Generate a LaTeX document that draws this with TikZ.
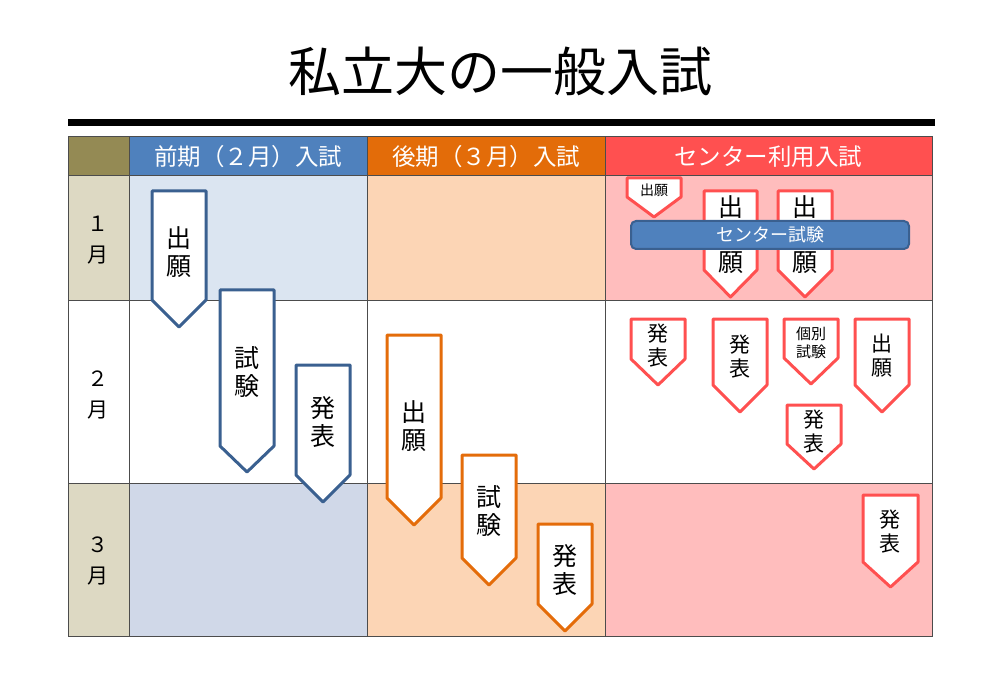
\documentclass[tikz,border=0pt]{standalone}
\usepackage{fontspec}
\setmainfont{Noto Sans CJK JP}
\usepackage{xcolor}

\definecolor{hdrcorner}{HTML}{948A54}
\definecolor{hdrblue}{HTML}{4F81BD}
\definecolor{hdrorange}{HTML}{E36C09}
\definecolor{hdrred}{HTML}{FF5050}
\definecolor{monthbg}{HTML}{DDD9C3}
\definecolor{bluelight}{HTML}{DBE5F1}
\definecolor{bluegray}{HTML}{D0D8E8}
\definecolor{orangelight}{HTML}{FCD5B5}
\definecolor{redlight}{HTML}{FFBDBD}
\definecolor{blueline}{HTML}{3A6090}
\definecolor{orangeline}{HTML}{E46C0A}
\definecolor{redline}{HTML}{FF5050}

% colour, left, right, top, shoulder, tip
\newcommand{\shield}[6]{%
  \draw[#1,line width=3pt,fill=white,line join=round]
    (#2,#4) -- (#3,#4) -- (#3,#5) -- ({(#2+#3)/2},#6) -- (#2,#5) -- cycle;}

\begin{document}
\begin{tikzpicture}[x=1pt,y=-1pt,
  every node/.style={inner sep=0pt},
  hdr/.style={text=white,font=\fontsize{23.5}{26}\selectfont},
  month/.style={align=center,font=\fontsize{21}{31}\selectfont},
  tag/.style={align=center,font=\fontsize{25}{28}\selectfont},
  tagmid/.style={align=center,font=\fontsize{21}{24}\selectfont},
  tagsmall/.style={align=center,font=\fontsize{14}{17}\selectfont},
  cellline/.style={draw=black!70,line width=1pt}]
\useasboundingbox (0,0) rectangle (1000,700);

% title
\node (title) at (500,71) {\fontsize{53}{60}\selectfont 私立大の一般入試};
\draw[line width=7pt] (68,122.5) -- (935,122.5);

% header row
\fill[hdrcorner] (68,137) rectangle (129,176);
\fill[hdrblue] (129,137) rectangle (367,176);
\fill[hdrorange] (367,137) rectangle (605,176);
\fill[hdrred] (605,137) rectangle (932,176);
\node[hdr] (hfirst) at (248,157) {前期（２月）入試};
\node[hdr] (hsecond) at (486,157) {後期（３月）入試};
\node[hdr] (hcenter) at (768,157) {センター利用入試};

% month rows
\fill[monthbg] (68,176) rectangle (129,300);
\fill[bluelight] (129,176) rectangle (367,300);
\fill[orangelight] (367,176) rectangle (605,300);
\fill[redlight] (605,176) rectangle (932,300);
\fill[monthbg] (68,483) rectangle (129,636);
\fill[bluegray] (129,483) rectangle (367,636);
\fill[orangelight] (367,483) rectangle (605,636);
\fill[redlight] (605,483) rectangle (932,636);

% grid
\draw[cellline] (68,137) rectangle (932,636);
\foreach \x in {129,367,605} \draw[cellline] (\x,137) -- (\x,636);
\foreach \y in {176,300,483} \draw[cellline] (68,\y) -- (932,\y);

\node[month] (jan) at (98,240) {１\\月};
\node[month] (feb) at (98,395) {２\\月};
\node[month] (mar) at (98,561) {３\\月};

% first term
\shield{blueline}{152}{206}{191}{300}{327}
\shield{blueline}{220}{274}{290}{446}{472}
\shield{blueline}{296}{350}{365}{475}{502}
\node[tag] (fapply) at (179,252) {出\\願};
\node[tag] (fexam) at (247,372) {試\\験};
\node[tag] (fresult) at (323,422) {発\\表};

% second term
\shield{orangeline}{387}{441}{335}{498}{525}
\shield{orangeline}{462}{516}{455}{558}{585}
\shield{orangeline}{538}{592}{524}{604}{631}
\node[tag] (sapply) at (414,426) {出\\願};
\node[tag] (sexam) at (489,511) {試\\験};
\node[tag] (sresult) at (565,570) {発\\表};

% center test
\shield{redline}{627}{681}{178}{197}{217}
\shield{redline}{704}{757}{191}{270}{297}
\shield{redline}{778}{832}{191}{270}{297}
\node[tagsmall] (capply) at (654,190) {出願};
\node[tag] (capplyA1) at (730.5,207) {出};
\node[tag] (capplyA2) at (730.5,263) {願};
\node[tag] (capplyB1) at (805,207) {出};
\node[tag] (capplyB2) at (805,263) {願};
\draw[blueline,line width=2pt,fill=hdrblue,rounded corners=5pt] (631,221) rectangle (909,249);
\node[text=white,font=\fontsize{18}{20}\selectfont] (ctest) at (770,235) {センター試験};

\shield{redline}{631}{685}{319}{359}{385}
\shield{redline}{713}{767}{319}{385}{412}
\shield{redline}{784}{838}{319}{358}{384}
\shield{redline}{855}{909}{319}{385}{412}
\shield{redline}{787}{841}{405}{444}{469}
\shield{redline}{863}{918}{495}{562}{587}
\node[tagmid] (cresultA) at (658,346) {発\\表};
\node[tagmid] (cresultB) at (740,357) {発\\表};
\node[align=center,font=\fontsize{15}{18}\selectfont] (cindiv) at (811,343) {個別\\試験};
\node[tagmid] (capplyC) at (882,356) {出\\願};
\node[tagmid] (cresultC) at (814,432) {発\\表};
\node[tagmid] (cresultD) at (890,532) {発\\表};
\end{tikzpicture}
\end{document}
